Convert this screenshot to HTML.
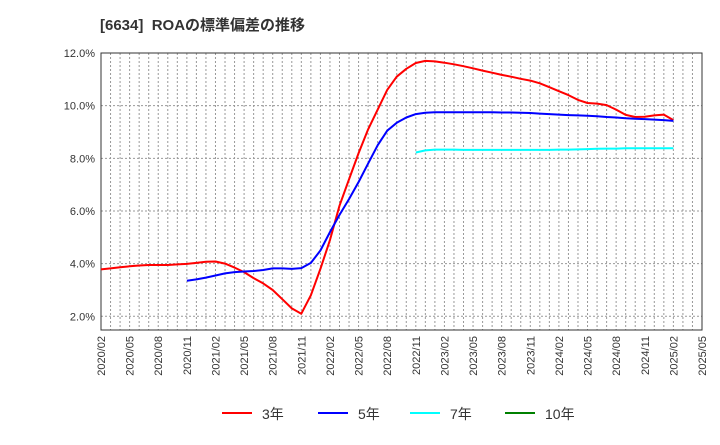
<!DOCTYPE html>
<html><head><meta charset="utf-8"><style>
body{margin:0;background:#fff;font-family:"Liberation Sans","Noto Sans CJK JP",sans-serif;}
svg text{font-family:"Liberation Sans","Noto Sans CJK JP",sans-serif;}
</style></head><body>
<svg id="c" width="720" height="440" xmlns="http://www.w3.org/2000/svg">
<text x="100" y="30" font-size="15" font-weight="bold" fill="#333" style="white-space:pre">[6634]  ROAの標準偏差の推移</text>
<g id="grid"></g><g id="axes"></g><g id="series"></g><g id="legend"></g>
</svg>
<script>
const yTicks=[2,4,6,8,10,12];
const xTickLabels=["2020/02","2020/05","2020/08","2020/11","2021/02","2021/05","2021/08","2021/11","2022/02","2022/05","2022/08","2022/11","2023/02","2023/05","2023/08","2023/11","2024/02","2024/05","2024/08","2024/11","2025/02","2025/05"];
// monthly values, index 0 = 2020/02
const s3=[3.78,3.82,3.86,3.90,3.93,3.95,3.95,3.95,3.97,3.99,4.03,4.07,4.08,4.00,3.85,3.68,3.45,3.25,3.00,2.65,2.30,2.10,2.80,3.80,4.90,6.20,7.20,8.20,9.10,9.85,10.60,11.10,11.40,11.62,11.70,11.68,11.63,11.57,11.50,11.42,11.33,11.25,11.17,11.10,11.02,10.95,10.85,10.70,10.55,10.40,10.22,10.10,10.08,10.02,9.85,9.65,9.57,9.58,9.63,9.66,9.45];
const s5Start=9;
const s5=[3.35,3.40,3.47,3.55,3.63,3.68,3.70,3.72,3.76,3.82,3.82,3.80,3.83,4.03,4.50,5.20,5.85,6.45,7.10,7.80,8.50,9.05,9.35,9.55,9.68,9.73,9.75,9.75,9.75,9.75,9.75,9.75,9.75,9.74,9.74,9.73,9.72,9.70,9.68,9.66,9.64,9.63,9.62,9.60,9.57,9.55,9.52,9.50,9.49,9.47,9.45,9.42];
const s7Start=33;
const s7=[8.22,8.30,8.33,8.33,8.33,8.32,8.32,8.32,8.32,8.32,8.32,8.32,8.32,8.32,8.32,8.33,8.33,8.34,8.35,8.36,8.37,8.37,8.38,8.38,8.38,8.38,8.38,8.38];
const X0=101,X1=702,Y0=53,Y1=330,NM=63;
const xs=i=>X0+i*(X1-X0)/NM;
const ys=v=>Y0+(12-v)*(Y1-Y0)/(12-1.48);
const NS="http://www.w3.org/2000/svg";
function mk(t,a,p){const e=document.createElementNS(NS,t);for(const k in a)e.setAttribute(k,a[k]);p.appendChild(e);return e;}
const g=document.getElementById('grid'),ax=document.getElementById('axes'),se=document.getElementById('series'),lg=document.getElementById('legend');
for(let i=1;i<NM;i++){const l=mk('line',{x1:xs(i),x2:xs(i),y1:Y0,y2:Y1,stroke:'#999','stroke-dasharray':'2,2','stroke-width':1},g);

}
yTicks.forEach(v=>{const l=mk('line',{x1:X0,x2:X1,y1:ys(v),y2:ys(v),stroke:'#999','stroke-dasharray':'2,2'},g);


const t=mk('text',{x:X0-6,y:ys(v)+4,'text-anchor':'end','font-size':11,fill:'#333'},ax);t.textContent=v.toFixed(1)+'%';

});
const fr=mk('rect',{x:X0,y:Y0,width:X1-X0,height:Y1-Y0,fill:'none',stroke:'#333'},ax);


xTickLabels.forEach((s,k)=>{const x=xs(k*3);const t=mk('text',{x:0,y:0,transform:`translate(${x+4},${Y1+6}) rotate(-90)`,'text-anchor':'end','font-size':11,fill:'#333'},ax);t.textContent=s;

});
function line(arr,st,col,name){const d=arr.map((v,i)=>(i?'L':'M')+xs(st+i).toFixed(1)+','+ys(v).toFixed(1)).join('');
const p=mk('path',{d,fill:'none',stroke:col,'stroke-width':2,'stroke-linejoin':'round'},se);

}
line(s3,0,'#ff0000','series-3y');line(s5,s5Start,'#0000ff','series-5y');line(s7,s7Start,'#00ffff','series-7y');
[['3年','#ff0000',222],['5年','#0000ff',318],['7年','#00ffff',410],['10年','#008000',505]].forEach(([n,c,x])=>{
const e=mk('g',{},lg);


mk('line',{x1:x,x2:x+30,y1:413,y2:413,stroke:c,'stroke-width':2},e);
const t=mk('text',{x:x+40,y:419,'font-size':14,fill:'#333'},e);t.textContent=n;});
</script>
</body></html>
